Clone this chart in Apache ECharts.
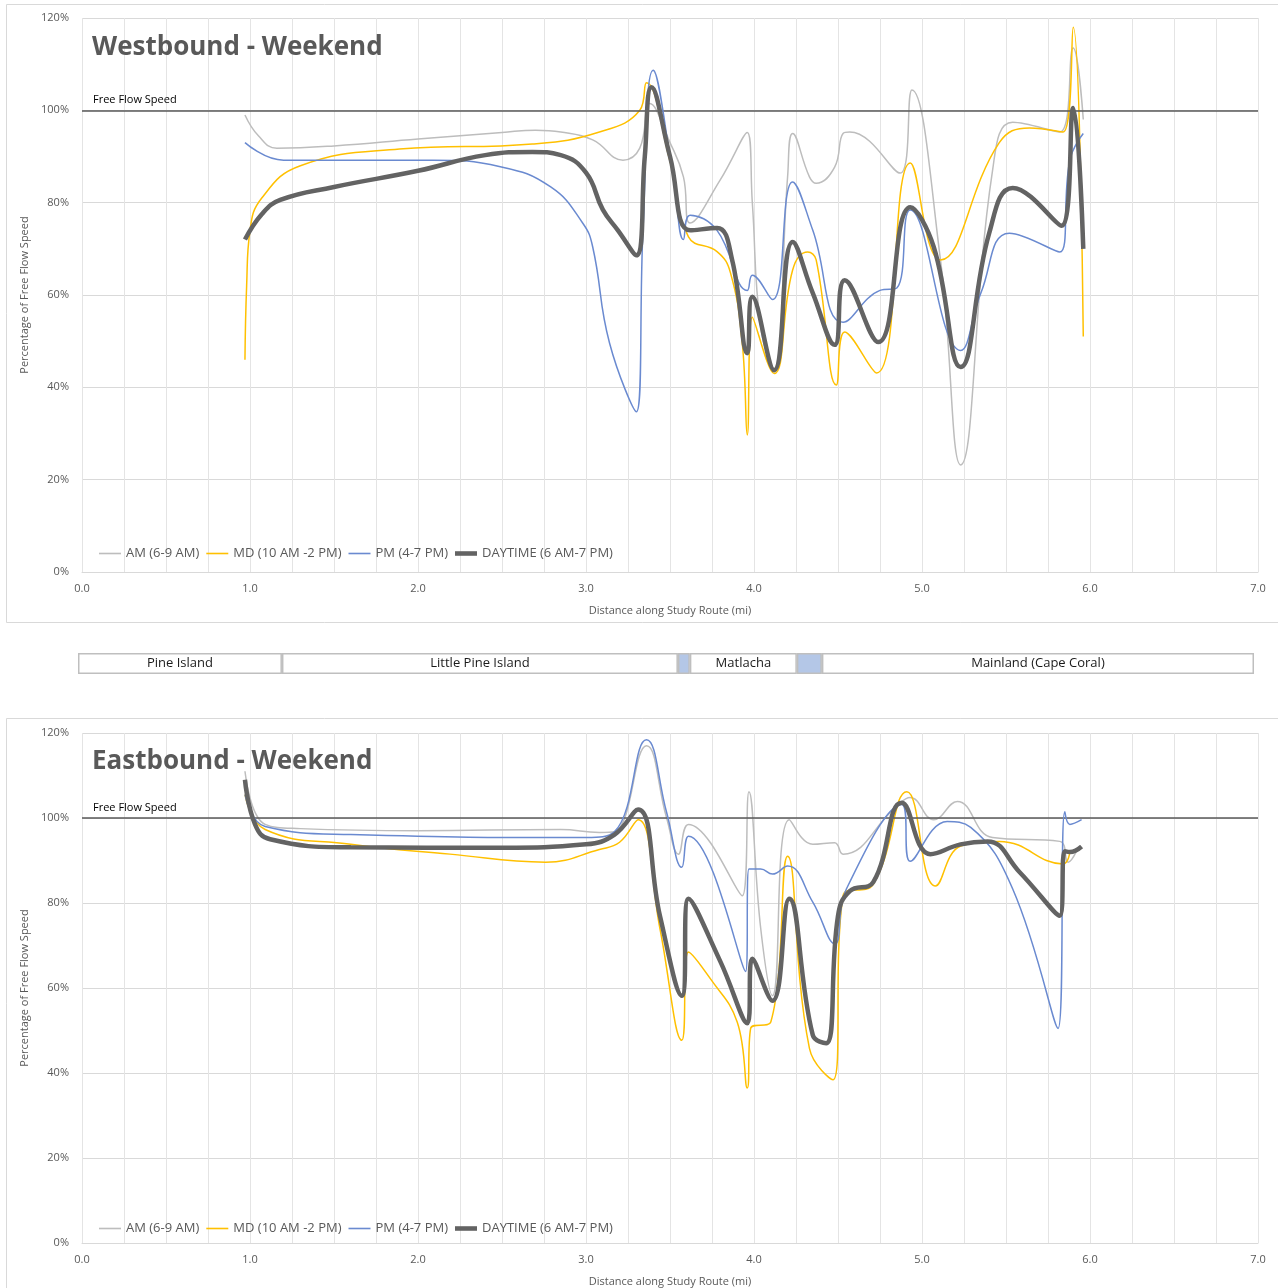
<!DOCTYPE html>
<html>
<head>
<meta charset="utf-8">
<title>Weekend Speed Profiles</title>
<script src="https://cdn.jsdelivr.net/npm/echarts@6/dist/echarts.min.js"></script>
<style>
  html, body { margin: 0; padding: 0; background: #fff; }
  #chart { width: 1278px; height: 1288px; }
</style>
</head>
<body>
<div id="chart"></div>
<script>
// series names, shared by both directions
const seriesNames = ['AM (6-9 AM)', 'MD (10 AM -2 PM)', 'PM (4-7 PM)', 'DAYTIME (6 AM-7 PM)'];
const xTicks = [0, 1, 2, 3, 4, 5, 6, 7];
const yTicks = [0, 20, 40, 60, 80, 100, 120];

// Westbound - [distance (mi), % of free flow speed]
const wbAm = [[0.97,99],[1.05,94.5],[1.16,91.8],[1.5,92.3],[2.0,93.8],[2.5,95.2],[2.7,95.7],[2.85,95.3],[3.04,93.6],[3.22,89.2],[3.32,91.8],[3.38,101.5],[3.5,93],[3.58,85.6],[3.62,75.6],[3.80,85],[3.96,95.2],[3.99,80],[4.04,53],[4.12,44],[4.20,85.6],[4.23,95],[4.33,85.6],[4.37,84.2],[4.48,87.7],[4.53,95],[4.57,95.3],[4.87,86.4],[4.94,104.4],[5.11,67.6],[5.23,23.2],[5.42,87],[5.54,97.4],[5.82,95.3],[5.90,113.5],[5.96,98]];
const wbMd = [[0.97,46],[0.98,62],[1.0,74],[1.07,81],[1.3,88],[1.89,91.6],[2.68,92.7],[3.08,95.3],[3.32,100],[3.36,106],[3.5,89],[3.61,72.6],[3.78,69.4],[3.86,64.8],[3.93,49.6],[3.96,29.7],[3.99,55.2],[4.12,43],[4.23,65.4],[4.32,69.3],[4.37,67.6],[4.49,40.5],[4.54,52],[4.73,43.1],[4.93,88.6],[5.11,67.6],[5.46,93],[5.64,96.2],[5.84,95.3],[5.90,118],[5.96,51]];
const wbPm = [[0.97,93],[1.2,89.2],[2.09,89.2],[2.49,87.8],[2.79,83.4],[2.98,75.6],[3.04,70.4],[3.14,49.6],[3.30,34.7],[3.34,74.7],[3.40,108.7],[3.52,85.6],[3.58,72],[3.62,77.3],[3.78,74],[3.96,61],[3.99,64.3],[4.11,59],[4.23,84.5],[4.35,74],[4.53,54.1],[4.75,61],[4.85,61.5],[4.93,78.4],[5.23,48],[5.35,60.4],[5.52,73.4],[5.82,69.3],[5.88,89.2],[5.96,95]];
const wbDay = [[0.97,72],[1.07,77.5],[1.18,80.6],[1.5,83.4],[2.0,86.9],[2.4,90.3],[2.68,91],[2.85,90.3],[3.0,86.5],[3.10,78.5],[3.19,74],[3.30,68.6],[3.35,90],[3.39,105],[3.5,90],[3.62,74],[3.78,74.5],[3.87,67.6],[3.96,47.4],[3.99,59.6],[4.12,43.7],[4.23,71.5],[4.35,60.4],[4.48,49.2],[4.54,63.2],[4.74,49.8],[4.93,79],[5.07,70.4],[5.23,44.4],[5.40,73.4],[5.54,83.2],[5.83,75],[5.90,100.5],[5.96,70]];

// Eastbound
const ebAm = [[0.97,111],[1.09,98.5],[1.3,97.5],[2.0,97],[2.85,97.3],[3.08,96.6],[3.17,96.8],[3.36,117],[3.48,100],[3.55,91.5],[3.61,98.5],[3.93,81.7],[3.97,106.2],[4.04,74],[4.11,58.2],[4.21,99.6],[4.35,93.8],[4.48,94.2],[4.53,91.5],[4.85,102.8],[4.93,104.8],[5.07,99.6],[5.21,103.9],[5.42,95.4],[5.82,94.5],[5.87,89.6],[5.92,92.2]];
const ebMd = [[0.97,105.5],[1.09,97.3],[1.6,93.8],[2.19,91.5],[2.76,89.6],[3.08,92.6],[3.20,94.3],[3.31,99.6],[3.44,74],[3.57,47.7],[3.61,68.5],[3.74,62.2],[3.90,52],[3.96,36.5],[3.98,50.5],[4.10,52],[4.20,91],[4.33,45.8],[4.47,38.4],[4.53,81.7],[4.71,84.4],[4.91,106.2],[5.08,84],[5.23,93.4],[5.46,94.5],[5.84,89.2],[5.88,92]];
const ebPm = [[0.97,105.5],[1.09,98],[1.6,96.1],[3.0,95.4],[3.17,96.8],[3.36,118.4],[3.48,101.3],[3.57,88.4],[3.61,95.7],[3.95,63.9],[3.97,88],[4.04,88],[4.11,86.8],[4.20,88.7],[4.35,80.2],[4.48,70.4],[4.55,83.3],[4.88,103.2],[4.93,89.8],[5.15,99.2],[5.29,97.8],[5.54,83.3],[5.81,50.5],[5.85,101.5],[5.88,98.5],[5.95,99.6]];
const ebDay = [[0.97,109],[1.03,98.5],[1.12,95],[1.6,93.1],[2.5,93],[3.0,93.8],[3.17,96.1],[3.31,102],[3.44,77],[3.57,58.2],[3.61,81],[3.80,66.2],[3.96,51.7],[3.99,66.9],[4.11,57],[4.21,81],[4.35,48.9],[4.43,47],[4.50,77],[4.57,82.8],[4.71,84.9],[4.88,103.6],[5.05,91.5],[5.23,93.8],[5.39,94.5],[5.58,87.3],[5.82,77],[5.85,92.2],[5.88,92],[5.95,93.3]];

// route segments under the top chart (length in mi)
const regionNames = ['Pine Island', 'Little Pine Island', '', 'Matlacha', '', 'Mainland (Cape Coral)'];
const regionLengths = [1.214, 2.357, 0.071, 0.637, 0.149, 2.572];

const FONT = 'Open Sans';
const colors = ['#bdbdbd', '#ffc000', '#6a8ad0', '#636363'];
const widths = [1.5, 1.5, 1.5, 4.5];
const legendIcons = ['path://M0,0H22V1.6H0Z', 'path://M0,0H22V1.6H0Z', 'path://M0,0H22V1.6H0Z', 'path://M0,0H24V5H0Z'];

const chart = echarts.init(document.getElementById('chart'));

function lineSeries(idx, data, gridIdx, withRef) {
  const s = {
    name: seriesNames[idx],
    type: 'line',
    xAxisIndex: gridIdx,
    yAxisIndex: gridIdx,
    data: data,
    smooth: 0.45,
    symbol: 'none',
    lineStyle: { color: colors[idx], width: widths[idx] },
    itemStyle: { color: colors[idx] },
    z: 3 + idx,
    silent: true
  };
  if (withRef) {
    s.markLine = {
      silent: true,
      symbol: 'none',
      lineStyle: { color: '#595959', width: 1.5, type: 'solid' },
      label: { show: true, position: 'insideStartTop', formatter: 'Free Flow Speed', color: '#000', fontSize: 11, fontFamily: FONT, distance: [11, 5] },
      data: [{ yAxis: 100 }]
    };
  }
  return s;
}

function xAxisOf(gridIdx) {
  return {
    type: 'value', gridIndex: gridIdx, min: xTicks[0], max: xTicks[xTicks.length - 1], interval: 1,
    name: 'Distance along Study Route (mi)', nameLocation: 'middle', nameGap: 33,
    nameTextStyle: { color: '#595959', fontSize: 11, fontFamily: FONT },
    axisLine: { lineStyle: { color: '#d9d9d9' } },
    axisTick: { show: false },
    axisLabel: { color: '#595959', fontSize: 11, fontFamily: FONT, margin: 11, formatter: v => v.toFixed(1) },
    splitLine: { show: true, lineStyle: { color: '#e4e4e4' } },
    minorTick: { show: false, splitNumber: 4 },
    minorSplitLine: { show: true, lineStyle: { color: '#e4e4e4' } }
  };
}

function yAxisOf(gridIdx) {
  return {
    type: 'value', gridIndex: gridIdx, min: yTicks[0], max: yTicks[yTicks.length - 1], interval: 20,
    name: 'Percentage of Free Flow Speed', nameLocation: 'middle', nameGap: 48,
    nameTextStyle: { color: '#595959', fontSize: 11, fontFamily: FONT },
    axisLine: { show: false },
    axisTick: { show: false },
    axisLabel: { color: '#595959', fontSize: 11, fontFamily: FONT, margin: 13, formatter: '{value}%' },
    splitLine: { lineStyle: { color: '#d9d9d9' } }
  };
}

function legendOf(top) {
  return {
    left: 94, top: top, orient: 'horizontal',
    itemWidth: 22, itemHeight: 14, itemGap: 7,
    textStyle: { color: '#595959', fontSize: 13, fontFamily: FONT },
    data: seriesNames.map((n, i) => ({ name: n, icon: legendIcons[i] }))
  };
}

const regionSeries = regionNames.map((n, i) => ({
  name: n || ('gap' + i),
  type: 'bar',
  stack: 'route',
  xAxisIndex: 2,
  yAxisIndex: 2,
  barWidth: 21,
  silent: true,
  data: [regionLengths[i]],
  itemStyle: { color: n ? '#ffffff' : '#b4c7e7', borderColor: '#bfbfbf', borderWidth: 1.5 },
  label: { show: !!n, position: 'inside', formatter: n, color: '#1a1a1a', fontSize: 13, fontFamily: FONT }
}));

const option = {
  animation: false,
  backgroundColor: '#ffffff',
  title: [
    { text: 'Westbound - Weekend', left: 87, top: 30, textStyle: { color: '#595959', fontSize: 26, fontWeight: 'bold', fontFamily: FONT } },
    { text: 'Eastbound - Weekend', left: 87, top: 744, textStyle: { color: '#595959', fontSize: 26, fontWeight: 'bold', fontFamily: FONT } }
  ],
  graphic: [
    { type: 'rect', shape: { x: 6.5, y: 4.5, width: 1280, height: 618 }, style: { fill: 'none', stroke: '#d9d9d9', lineWidth: 1 }, silent: true, z: -10 },
    { type: 'rect', shape: { x: 6.5, y: 718.5, width: 1280, height: 600 }, style: { fill: 'none', stroke: '#d9d9d9', lineWidth: 1 }, silent: true, z: -10 }
  ],
  legend: [legendOf(542), legendOf(1217)],
  grid: [
    { left: 82, right: 20, top: 18, height: 554 },
    { left: 82, right: 20, top: 733, height: 513 },
    { left: 78, right: 24, top: 653, height: 21 }
  ],
  xAxis: [
    xAxisOf(0),
    xAxisOf(1),
    { type: 'value', gridIndex: 2, min: 0, max: 7, show: false }
  ],
  yAxis: [
    yAxisOf(0),
    yAxisOf(1),
    { type: 'category', gridIndex: 2, data: ['route'], show: false }
  ],
  series: [
    lineSeries(0, wbAm, 0, true),
    lineSeries(1, wbMd, 0, false),
    lineSeries(2, wbPm, 0, false),
    lineSeries(3, wbDay, 0, false),
    lineSeries(0, ebAm, 1, true),
    lineSeries(1, ebMd, 1, false),
    lineSeries(2, ebPm, 1, false),
    lineSeries(3, ebDay, 1, false)
  ].concat(regionSeries)
};

chart.setOption(option);
</script>
</body>
</html>
